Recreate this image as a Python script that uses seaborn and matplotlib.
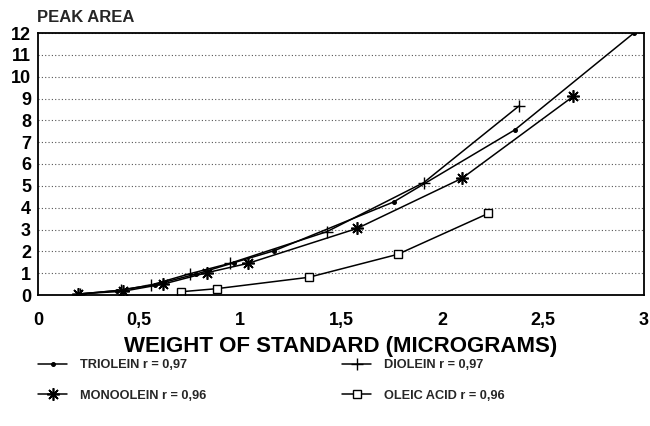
import matplotlib
matplotlib.use("Agg")
import matplotlib.pyplot as plt
import seaborn as sns
import numpy as np

# ---- data ----
triolein_x = [0.20, 0.39, 0.58, 0.78, 0.97, 1.17, 1.76, 2.36, 2.95]
triolein_y = [0.04, 0.20, 0.48, 0.95, 1.48, 2.03, 4.26, 7.56, 12.0]

diolein_x = [0.21, 0.41, 0.56, 0.75, 0.95, 1.43, 1.91, 2.38]
diolein_y = [0.05, 0.22, 0.46, 0.97, 1.45, 2.90, 5.15, 8.65]

monoolein_x = [0.20, 0.42, 0.62, 0.835, 1.04, 1.58, 2.10, 2.65]
monoolein_y = [0.05, 0.17, 0.50, 1.02, 1.45, 3.05, 5.35, 9.10]

oleic_x = [0.71, 0.885, 1.34, 1.78, 2.23]
oleic_y = [0.15, 0.29, 0.81, 1.86, 3.74]

labels = ["TRIOLEIN r = 0,97", "MONOOLEIN r = 0,96",
          "DIOLEIN r = 0,97", "OLEIC ACID r = 0,96"]

x_ticks = [0, 0.5, 1, 1.5, 2, 2.5, 3]
x_tick_labels = ["0", "0,5", "1", "1,5", "2", "2,5", "3"]
y_ticks = list(range(0, 13))

x_title = "WEIGHT OF STANDARD (MICROGRAMS)"
y_title = "PEAK AREA"

# ---- style ----
sns.set_theme(style="white")
plt.rcParams['font.family'] = ['Liberation Sans', 'DejaVu Sans']
plt.rcParams['font.weight'] = 'bold'

fig = plt.figure(figsize=(6.5, 4.26), dpi=100)
ax = fig.add_axes([38/650, 1-295/426, (644-38)/650, (295-33)/426])

asterisk = (8, 2, 0)
series = [
    (triolein_x, triolein_y, dict(marker='o', markersize=2.8, markerfacecolor='black')),
    (monoolein_x, monoolein_y, dict(marker=asterisk, markersize=9, markeredgewidth=1.2)),
    (diolein_x, diolein_y, dict(marker='+', markersize=9, markeredgewidth=1.0)),
    (oleic_x, oleic_y, dict(marker='s', markersize=6, markerfacecolor='white', markeredgewidth=1.0)),
]
for (xs, ys, mk), lab in zip(series, labels):
    sns.lineplot(x=xs, y=ys, ax=ax, color='black', linewidth=1.1,
                 markeredgecolor='black', label=lab, **mk)

ax.set_xlim(0, 3)
ax.set_ylim(0, 12)
ax.set_xticks(x_ticks)
ax.set_xticklabels(x_tick_labels, fontsize=13, fontweight='bold')
ax.set_yticks(y_ticks)
ax.set_yticklabels([str(v) for v in y_ticks], fontsize=13, fontweight='bold')
ax.tick_params(axis='x', direction='in', length=5, width=1, colors='black', pad=12)
ax.tick_params(axis='y', direction='in', length=4, width=1, colors='black', pad=5)

ax.yaxis.grid(True, linestyle=(0, (1, 2)), color='#555555', linewidth=0.8)
ax.xaxis.grid(False)
for s in ax.spines.values():
    s.set_color('black')
    s.set_linewidth(1.3)

ax.set_xlabel(x_title, fontsize=16, fontweight='bold', labelpad=5, color='black')
ax.set_ylabel("")
fig.text(37/650, 1-18/426, y_title, fontsize=12, fontweight='bold', ha='left', va='center')

handles, labs = ax.get_legend_handles_labels()
ax.get_legend().remove()
common = dict(loc='upper left', frameon=False, prop={'size': 9.2, 'weight': 'bold'},
              handlelength=2.3, handletextpad=0.95, labelspacing=1.45,
              borderpad=0, borderaxespad=0)
leg1 = fig.legend(handles[:2], labs[:2], bbox_to_anchor=(38/650, 1-359/426), **common)
leg2 = fig.legend(handles[2:], labs[2:], bbox_to_anchor=(342/650, 1-359/426), **common)

fig.savefig("out.png", dpi=100, facecolor='white')
